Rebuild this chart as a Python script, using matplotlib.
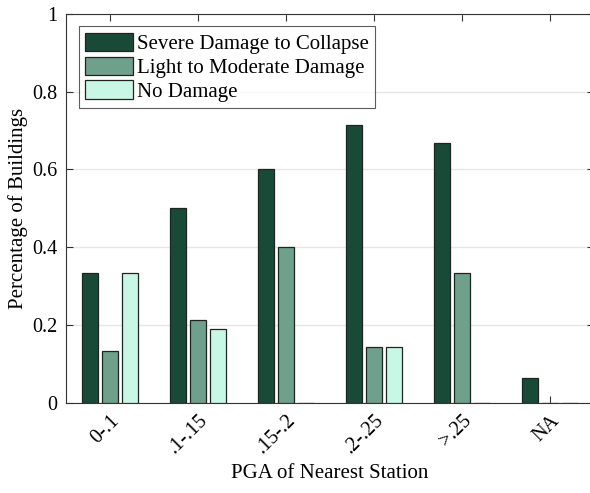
import numpy as np
import matplotlib.pyplot as plt

plt.rcParams['font.family'] = ['Liberation Serif', 'DejaVu Serif']

# PGA bins and fraction of buildings in each damage state
categories = ["0-.1", ".1-.15", ".15-.2", ".2-.25", ">.25", "NA"]
severe = [0.333, 0.5, 0.6, 0.714, 0.667, 0.0625]
moderate = [0.133, 0.214, 0.4, 0.143, 0.333, 0.0]
no_damage = [0.333, 0.19, 0.0, 0.143, 0.0, 0.0]
series_names = ["Severe Damage to Collapse", "Light to Moderate Damage", "No Damage"]
colors = ["#194a37", "#6fa08c", "#c8f7e6"]

fig = plt.figure(figsize=(5.9, 4.93), dpi=100)
# right edge of the axes sits just past the figure edge, like the cropped original
ax = fig.add_axes([0.112, 0.183, 0.895, 0.789])

x = np.arange(1, len(categories) + 1)
width = 0.18
offset = 0.225
for i, (vals, name, c) in enumerate(zip([severe, moderate, no_damage], series_names, colors)):
    ax.bar(x + (i - 1) * offset, vals, width, color=c, edgecolor="#222222",
           linewidth=0.9, label=name, zorder=3)

ax.set_xlim(0.5, 6.5)
ax.set_ylim(0, 1)
ax.set_yticks([0, 0.2, 0.4, 0.6, 0.8, 1])
ax.set_yticklabels(["0", "0.2", "0.4", "0.6", "0.8", "1"])
ax.set_xticks(x)
ax.set_xticklabels(categories, rotation=45, ha="right", va="top", rotation_mode="anchor")
ax.tick_params(direction="in", length=5, labelsize=14.5, top=True, right=True,
               color="#333333", width=0.8, pad=6)
ax.yaxis.grid(True, color="#e6e6e6", linewidth=1, zorder=0)
for s in ax.spines.values():
    s.set_color("#333333")
    s.set_linewidth(0.8)

ax.set_xlabel("PGA of Nearest Station", fontsize=15, labelpad=4)
ax.set_ylabel("Percentage of Buildings", fontsize=15, labelpad=3)

leg = ax.legend(loc="upper left", fontsize=15, frameon=True, fancybox=False,
                edgecolor="#333333", handlelength=2.3, handleheight=1.0,
                handletextpad=0.2, labelspacing=0.12, borderpad=0.3,
                borderaxespad=0.6)
leg.get_frame().set_linewidth(0.8)

fig.savefig("out.png", dpi=100)
